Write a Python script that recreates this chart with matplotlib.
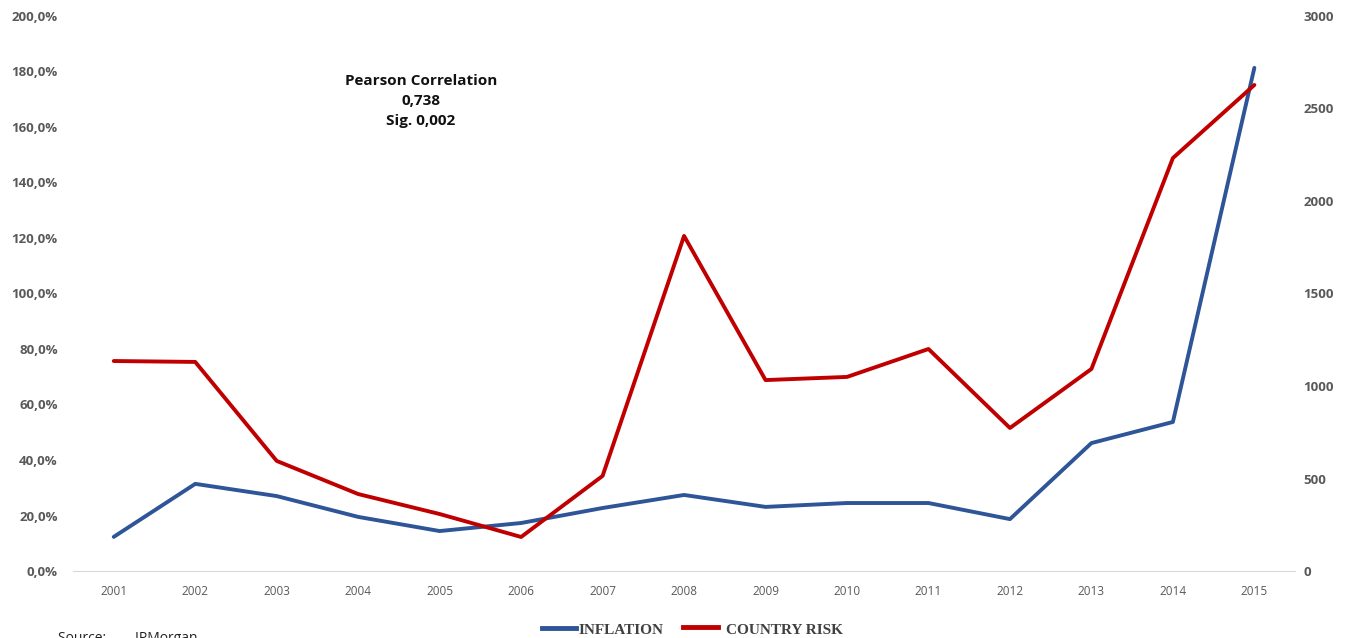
import numpy as np
import matplotlib
matplotlib.use("Agg")
import matplotlib.pyplot as plt
from matplotlib.ticker import FuncFormatter

years = [str(y) for y in range(2001, 2016)]
inflation = [12.3, 31.4, 27.0, 19.5, 14.4, 17.3, 22.7, 27.4, 23.1, 24.5, 24.5, 18.7, 46.1, 53.7, 181.3]
country_risk = [1135, 1130, 595, 416, 308, 184, 514, 1811, 1032, 1049, 1200, 773, 1092, 2232, 2627]

plt.rcParams['font.family'] = ['Open Sans', 'DejaVu Sans']

fig = plt.figure(figsize=(13.45, 6.38), dpi=100)
ax = fig.add_axes([0.0543, 0.105, 0.9086, 0.870])
ax2 = ax.twinx()

x = np.arange(len(years))
ax.plot(x, inflation, color='#2E5597', lw=2.8, solid_capstyle='round', zorder=3)
ax2.plot(x, country_risk, color='#C00000', lw=2.8, solid_capstyle='round', zorder=3)

ax.set_xlim(-0.5, len(years) - 0.5)
ax.set_ylim(0, 200)
ax2.set_ylim(0, 3000)
ax.set_yticks(np.arange(0, 201, 20))
ax2.set_yticks(np.arange(0, 3001, 500))
ax.yaxis.set_major_formatter(FuncFormatter(lambda v, p: f"{v:.1f}%".replace('.', ',')))
ax.set_xticks(x)
ax.set_xticklabels(years)

for a in (ax, ax2):
    for s in a.spines.values():
        s.set_visible(False)
    a.tick_params(length=0)
ax.spines['bottom'].set_visible(True)
ax.spines['bottom'].set_color('#d9d9d9')
ax.tick_params(axis='x', labelsize=8.5, labelcolor='#595959', pad=10)
ax.tick_params(axis='y', labelsize=9.5, labelcolor='#595959', pad=11)
ax2.tick_params(axis='y', labelsize=9.5, labelcolor='#595959', pad=6)
for lbl in ax.get_yticklabels() + ax2.get_yticklabels():
    lbl.set_fontweight('bold')

ax.text(3.77, 179, "Pearson Correlation\n0,738\nSig. 0,002", ha='center', va='top',
        fontsize=11, fontweight='bold', linespacing=1.55, color='#111111')

# legend
fig.lines.append(plt.Line2D([0.403, 0.428], [0.016, 0.016], color='#2E5597', lw=3.5,
                            transform=fig.transFigure))
fig.text(0.430, 0.0125, "INFLATION", fontsize=11, fontweight='bold', color='#404040',
         family='Liberation Serif', va='center')
fig.lines.append(plt.Line2D([0.508, 0.534], [0.018, 0.018], color='#C00000', lw=3.5,
                            transform=fig.transFigure))
fig.text(0.540, 0.0125, "COUNTRY RISK", fontsize=11, fontweight='bold', color='#404040',
         family='Liberation Serif', va='center')

fig.text(0.043, -0.012, "Source:        JPMorgan", fontsize=10, color='#222222', va='bottom')

fig.savefig("out.png", dpi=100)
